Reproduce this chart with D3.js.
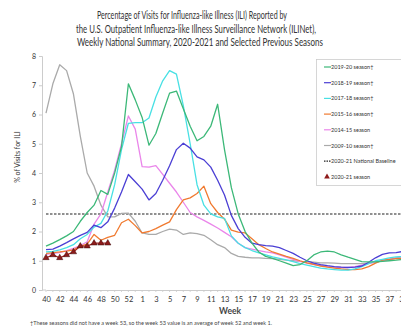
<!DOCTYPE html>
<html><head><meta charset="utf-8">
<script src="https://cdn.jsdelivr.net/npm/d3@7"></script>
<style>body{margin:0;background:#fff;overflow:hidden}svg{display:block}text{font-family:Lato,"Open Sans",sans-serif}</style>
</head><body><svg id="c" width="401" height="329"></svg>
<script>
const weeks = ["40","41","42","43","44","45","46","47","48","49","50","51","52","53","1","2","3","4","5","6","7","8","9","10","11","12","13","14","15","16","17","18","19","20","21","22","23","24","25","26","27","28","29","30","31","32","33","34","35","36","37","38","39"];
const tickWeeks = ["40","42","44","46","48","50","52","1","3","5","7","9","11","13","15","17","19","21","23","25","27","29","31","33","35","37","39"];
const yTicks = [0,1,2,3,4,5,6,7,8];
const s2019 = [1.5,1.6,1.72,1.85,2.0,2.35,2.65,2.9,3.4,3.27,4.0,4.9,7.05,6.5,
 5.9,4.95,5.35,6.05,6.73,6.8,6.2,5.6,5.1,5.25,5.6,6.35,4.8,3.5,2.6,2.0,1.6,1.3,1.15,1.08,1.0,0.92,0.83,0.87,1.0,1.2,1.3,1.33,1.3,1.2,1.12,1.05,0.97,0.96,0.96,0.98,1.0,1.02,1.05];
const s2018 = [1.38,1.4,1.5,1.62,1.75,1.87,1.97,2.22,2.13,2.33,2.8,3.35,3.95,3.7,
 3.45,3.08,3.3,3.75,4.25,4.8,5.02,4.85,4.55,4.45,4.2,3.75,3.25,2.55,2.1,1.8,1.6,1.55,1.52,1.5,1.45,1.35,1.25,1.12,1.0,0.92,0.87,0.83,0.8,0.78,0.77,0.78,0.82,0.95,1.1,1.22,1.27,1.28,1.32];
const s2017 = [1.3,1.32,1.37,1.45,1.55,1.75,1.9,2.15,2.28,2.7,3.6,4.8,5.7,5.72,
 5.72,5.88,6.6,7.15,7.5,7.38,6.3,5.0,3.6,2.9,2.6,2.5,2.45,1.85,1.6,1.45,1.35,1.27,1.2,1.13,1.08,1.03,0.97,0.9,0.85,0.8,0.75,0.72,0.7,0.68,0.68,0.72,0.8,0.9,1.0,1.05,1.1,1.13,1.15];
const s2015 = [1.25,1.28,1.3,1.33,1.37,1.5,1.57,1.9,1.7,1.8,1.87,2.3,2.42,2.2,
 1.95,2.0,2.1,2.22,2.33,2.75,3.08,3.15,3.3,3.55,2.95,2.65,2.42,2.05,1.98,1.95,1.75,1.55,1.42,1.3,1.23,1.15,1.08,1.0,0.93,0.88,0.82,0.78,0.75,0.72,0.7,0.7,0.72,0.8,0.92,1.02,1.05,1.07,1.08];
const s2014 = [1.22,1.25,1.28,1.35,1.42,1.52,1.65,2.25,2.6,3.35,4.1,5.0,5.95,5.5,
 4.22,4.2,4.25,3.95,3.65,3.35,3.0,2.65,2.5,2.38,2.25,2.12,1.97,1.82,1.6,1.45,1.4,1.35,1.3,1.27,1.2,1.12,1.05,0.98,0.92,0.87,0.83,0.8,0.78,0.77,0.77,0.8,0.85,0.9,0.95,1.0,1.05,1.08,1.1];
const s2009 = [6.05,7.05,7.7,7.5,6.7,5.25,4.0,3.55,2.9,2.5,2.5,2.62,2.63,2.35,
 1.95,1.9,1.9,2.0,2.08,2.05,1.9,1.95,1.93,1.87,1.72,1.55,1.45,1.25,1.15,1.12,1.1,1.1,1.08,1.07,1.05,1.02,1.0,0.98,0.97,0.95,0.93,0.93,0.92,0.9,0.9,0.9,0.9,0.92,0.95,1.0,1.05,1.1,1.15];
const s2020 = [1.1,1.2,1.1,1.2,1.3,1.5,1.5,1.6,1.6,1.6];
const baseline = 2.6;
const seriesNames = ["2019-20 season\u2020","2018-19 season\u2020","2017-18 season\u2020","2015-16 season\u2020","2014-15 season","2009-10 season\u2020"];
const seriesColors = ["#3cb878","#4b3fd4","#48e0e4","#f07a30","#ea86ea","#aaaaaa"];
const titleLines = ["Percentage of Visits for Influenza-like Illness (ILI) Reported by","the U.S. Outpatient Influenza-like Illness Surveillance Network (ILINet),","Weekly National Summary, 2020-2021 and Selected Previous Seasons"];
const footnote = "\u2020These seasons did not have a week 53, so the week 53 value is an average of week 52 and week 1.";

const allSeries = [s2019,s2018,s2017,s2015,s2014,s2009];
const svg = d3.select("#c");
const x = d3.scalePoint().domain(weeks).range([46,403]);
const y = d3.scaleLinear().domain([0,8]).range([290,56]);

// title
const tw = [190,240,246], tc=[192,196,200];
titleLines.forEach((t,i)=>{
  svg.append("text").attr("x",tc[i]).attr("y",19+i*13.5).attr("text-anchor","middle")
    .attr("font-size",10.5).attr("fill","#333").attr("textLength",tw[i]).attr("lengthAdjust","spacingAndGlyphs").text(t);
});

// axes
const ya = svg.append("g").attr("transform","translate(42,0)")
  .call(d3.axisLeft(y).tickValues(yTicks).tickSize(3).tickPadding(3).tickFormat(d3.format("d")));
ya.select(".domain").attr("stroke","#ccc");
ya.selectAll(".tick line").attr("stroke","#ccc");
ya.selectAll("text").attr("font-size",7).attr("fill","#333");

const xa = svg.append("g").attr("transform","translate(0,290)")
  .call(d3.axisBottom(x).tickValues(tickWeeks).tickSize(0).tickPadding(7));
xa.select(".domain").attr("stroke","#ccc");
xa.selectAll("text").attr("font-size",7.5).attr("fill","#333");
svg.append("g").selectAll("line").data(weeks).join("line")
  .attr("x1",d=>x(d)).attr("x2",d=>x(d)).attr("y1",290).attr("y2",292).attr("stroke","#ccc").attr("stroke-width",0.8);
svg.append("line").attr("x1",42).attr("x2",46).attr("y1",290).attr("y2",290).attr("stroke","#ccc");

svg.append("text").attr("transform","translate(20,157) rotate(-90)").attr("text-anchor","middle")
  .attr("font-size",7).attr("fill","#333").text("% of Visits for ILI");
svg.append("text").attr("x",230).attr("y",314).attr("text-anchor","middle")
  .attr("font-size",8.5).attr("font-weight","bold").attr("fill","#444").text("Week");
svg.append("text").attr("x",30).attr("y",325).attr("font-size",5).attr("fill","#444")
  .attr("textLength",242).attr("lengthAdjust","spacingAndGlyphs").text(footnote);

// baseline
svg.append("line").attr("x1",x("40")).attr("x2",403).attr("y1",y(baseline)).attr("y2",y(baseline))
  .attr("stroke","#222").attr("stroke-width",1.1).attr("stroke-dasharray","2.5,1.5");

const line = d3.line().x((d,i)=>x(weeks[i])).y(d=>y(d));
for (let k=allSeries.length-1;k>=0;k--){
  svg.append("path").datum(allSeries[k]).attr("d",line).attr("fill","none")
    .attr("stroke",seriesColors[k]).attr("stroke-width",1.3).attr("stroke-linejoin","round");
}
svg.append("path").datum(s2020).attr("d",line).attr("fill","none").attr("stroke","#a52020").attr("stroke-width",1.2);
svg.append("g").selectAll("path").data(s2020).join("path")
  .attr("transform",(d,i)=>`translate(${x(weeks[i])},${y(d)})`)
  .attr("d",d3.symbol(d3.symbolTriangle).size(17)).attr("fill","#8e1b1b").attr("stroke","#3a0a0a").attr("stroke-width",0.5);

// legend
const lg = svg.append("g");
lg.append("rect").attr("x",316.5).attr("y",59.5).attr("width",100).attr("height",126).attr("fill","#fff").attr("stroke","#ccc").attr("stroke-width",0.8);
const legItems = seriesNames.map((n,i)=>({n,c:seriesColors[i],t:"line"}))
  .concat([{n:"2020-21 National Baseline",c:"#222",t:"dash"},{n:"2020-21 season",c:"#8e1b1b",t:"tri"}]);
legItems.forEach((d,i)=>{
  const yy = 67+i*15.7;
  if(d.t==="tri"){
    lg.append("path").attr("transform",`translate(327,${yy})`).attr("d",d3.symbol(d3.symbolTriangle).size(14)).attr("fill",d.c);
  } else {
    lg.append("line").attr("x1",324).attr("x2",331).attr("y1",yy).attr("y2",yy).attr("stroke",d.c).attr("stroke-width",1.2)
      .attr("stroke-dasharray",d.t==="dash"?"1.5,1":null);
  }
  lg.append("text").attr("x",331).attr("y",yy+2).attr("font-size",5.5).attr("fill","#333").text(d.n);
});
</script></body></html>
